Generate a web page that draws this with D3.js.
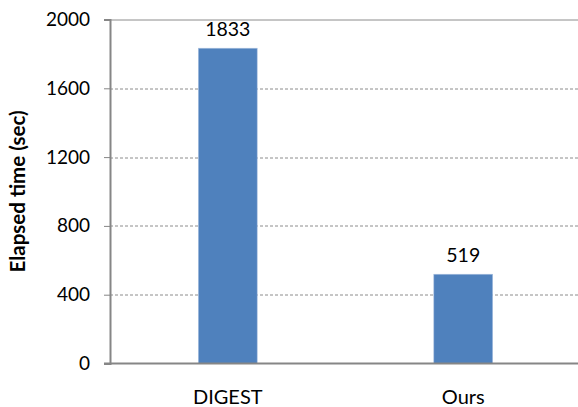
<!DOCTYPE html>
<html lang="en">
<head>
  <meta charset="UTF-8" />
  <title>Elapsed time</title>
  <script src="https://d3js.org/d3.v7.min.js"></script>
  <style>
    body { margin: 0; padding: 0; background: #fff; }
    text { font-family: Lato, "Open Sans", sans-serif; fill: #000; }
  </style>
</head>
<body>
  <div id="chart"></div>
  <script>
    // data
    const categories = ["DIGEST", "Ours"];
    const values = [1833, 519];
    const yTicks = [0, 400, 800, 1200, 1600, 2000];

    const width = 578, height = 407;
    const margin = { top: 19.5, right: -3, bottom: 43.5, left: 110 };
    const innerW = width - margin.left - margin.right;
    const innerH = height - margin.top - margin.bottom;

    const svg = d3.select("#chart").append("svg")
      .attr("width", width)
      .attr("height", height);

    const g = svg.append("g")
      .attr("transform", `translate(${margin.left},${margin.top})`);

    const x = d3.scaleBand()
      .domain(categories)
      .range([0, innerW])
      .paddingInner(0.75)
      .paddingOuter(0.375);

    const y = d3.scaleLinear()
      .domain([0, 2000])
      .range([innerH, 0]);

    // gridlines (dashed), top one solid
    g.selectAll(".grid")
      .data(yTicks.filter(d => d > 0))
      .enter()
      .append("line")
      .attr("x1", 0)
      .attr("x2", innerW)
      .attr("y1", d => Math.round(y(d)) + 0.5)
      .attr("y2", d => Math.round(y(d)) + 0.5)
      .attr("stroke", "#8c8c8c")
      .attr("stroke-width", 1)
      .attr("stroke-dasharray", d => d === 2000 ? null : "3,2");

    // bars
    g.selectAll(".bar")
      .data(values)
      .enter()
      .append("rect")
      .attr("x", (d, i) => x(categories[i]))
      .attr("y", d => y(d))
      .attr("width", x.bandwidth())
      .attr("height", d => innerH - y(d))
      .attr("fill", "#4f81bd")
      .attr("stroke", "#a9c0df")
      .attr("stroke-width", 0.6);

    // value labels
    g.selectAll(".val")
      .data(values)
      .enter()
      .append("text")
      .attr("x", (d, i) => x(categories[i]) + x.bandwidth() / 2)
      .attr("y", d => y(d) - 12)
      .attr("text-anchor", "middle")
      .style("font-size", "19.5px")
      .text(d => d);

    // y axis
    const yAxis = g.append("g")
      .call(d3.axisLeft(y).tickValues(yTicks).tickSize(6).tickPadding(14).tickFormat(d3.format("d")));
    yAxis.select(".domain").attr("stroke", "#868686").attr("stroke-width", 2);
    yAxis.selectAll(".tick line").attr("stroke", "#868686");
    yAxis.selectAll(".tick text").style("font-size", "19px").attr("fill", "#000");

    // x axis line
    g.append("line")
      .attr("x1", -6)
      .attr("x2", innerW)
      .attr("y1", innerH)
      .attr("y2", innerH)
      .attr("stroke", "#868686")
      .attr("stroke-width", 2);

    // category labels
    g.selectAll(".cat")
      .data(categories)
      .enter()
      .append("text")
      .attr("x", d => x(d) + x.bandwidth() / 2)
      .attr("y", innerH + 40)
      .attr("text-anchor", "middle")
      .style("font-size", "20px")
      .text(d => d);

    // y axis title
    svg.append("text")
      .attr("transform", `translate(25,${margin.top + innerH / 2}) rotate(-90)`)
      .attr("text-anchor", "middle")
      .style("font-size", "20.5px")
      .style("font-weight", "bold")
      .text("Elapsed time (sec)");
  </script>
</body>
</html>
